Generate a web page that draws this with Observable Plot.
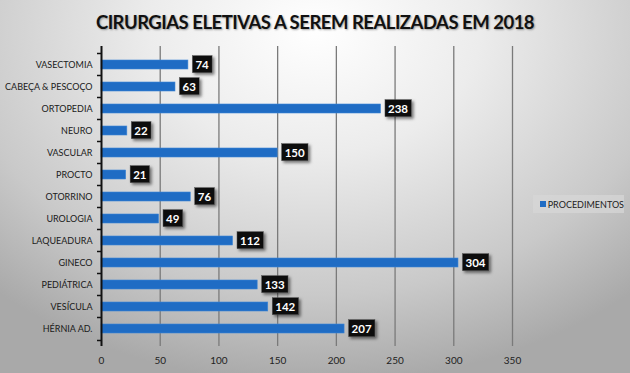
<!DOCTYPE html>
<html>
<head>
<meta charset="utf-8">
<script src="https://cdn.jsdelivr.net/npm/d3@7"></script>
<script src="https://cdn.jsdelivr.net/npm/@observablehq/plot@0.6"></script>
<style>
  html, body { margin: 0; padding: 0; }
  body {
    width: 630px; height: 373px; overflow: hidden; position: relative;
    background: radial-gradient(ellipse 75% 95% at 50% 8%, #ffffff 0%, #ececec 35%, #c9c9c9 75%, #a9a9a9 100%);
    font-family: Lato, "Open Sans", sans-serif;
  }
  #title {
    height: 40px; line-height: 44px; text-align: center;
    font-weight: bold; font-size: 18.5px; color: #111;
    letter-spacing: -0.5px;
    text-shadow: 1px 1px 2px rgba(0,0,0,0.35);
  }
  #legend {
    position: absolute; left: 533px; top: 195px; width: 91px; height: 18px;
    background: rgba(215,215,215,0.7);
    font-size: 9px; color: #222; display: flex; align-items: center;
  }
  #legend span.sw { display: inline-block; width: 6px; height: 6px; background: #1f6cc4; margin: 0 2px 0 7px; }
  svg { display: block; }
</style>
</head>
<body>
<div id="title">CIRURGIAS ELETIVAS A SEREM REALIZADAS EM 2018</div>
<div id="chart"></div>
<div id="legend"><span class="sw"></span>PROCEDIMENTOS</div>
<script>
const categories = ["VASECTOMIA", "CABEÇA & PESCOÇO", "ORTOPEDIA", "NEURO", "VASCULAR", "PROCTO", "OTORRINO", "UROLOGIA", "LAQUEADURA", "GINECO", "PEDIÁTRICA", "VESÍCULA", "HÉRNIA AD."];
const procedimentos = [74, 63, 238, 22, 150, 21, 76, 49, 112, 304, 133, 142, 207];
const xTicks = [0, 50, 100, 150, 200, 250, 300, 350];
const gridTicks = [50, 100, 150, 200, 250, 300, 350];

const data = categories.map((c, i) => ({cat: c, value: procedimentos[i]}));

const plot = Plot.plot({
  width: 630,
  height: 333,
  marginTop: 6,
  marginBottom: 27,
  marginLeft: 101,
  marginRight: 118,
  style: {background: "transparent", fontFamily: "Lato, 'Open Sans', sans-serif", color: "#222"},
  x: {domain: [0, 350], ticks: xTicks},
  y: {domain: categories, padding: 0.6, label: null},
  marks: [
    Plot.ruleX(gridTicks, {stroke: "#7a7a7a", strokeWidth: 1.3}),
    Plot.axisX({ticks: xTicks, tickSize: 0, tickPadding: 10, fontSize: 10, label: null, color: "#222"}),
    Plot.axisY({tickSize: 0, tickPadding: 9, fontSize: 9, label: null, color: "#1a1a1a"}),
    Plot.ruleY(categories, {y: d => d, x1: 0, x2: 0, insetLeft: -4, dy: -11.5, stroke: "#111", strokeWidth: 1.5}),
    Plot.ruleY(categories.slice(-1), {y: d => d, x1: 0, x2: 0, insetLeft: -4, dy: 11.5, stroke: "#111", strokeWidth: 1.5}),
    Plot.barX(data, {y: "cat", x: "value", fill: "#1f6cc4", stroke: "#3d86d6", strokeWidth: 0.6}),
    Plot.ruleX([0], {stroke: "#111", strokeWidth: 2}),
    Plot.text(data, {y: "cat", x: "value", text: d => String(d.value), textAnchor: "start", dx: 7, fill: "white", fontWeight: "bold", fontSize: 11.5, ariaLabel: () => "values"})
  ]
});
document.getElementById("chart").appendChild(plot);

// black boxes with shadow behind value labels
const svg = d3.select(plot);
const defs = svg.insert("defs", ":first-child");
const f = defs.append("filter").attr("id", "sh").attr("x", "-30%").attr("y", "-30%").attr("width", "180%").attr("height", "180%");
f.append("feDropShadow").attr("dx", 2).attr("dy", 2).attr("stdDeviation", 1.5).attr("flood-color", "#000").attr("flood-opacity", 0.5);
const texts = [];
svg.selectAll("text").each(function() {
  if (this.getAttribute("aria-label") === "values") texts.push(this);
});
texts.forEach(node => {
  const b = node.getBBox();
  const t = node.getAttribute("transform");
  const r = document.createElementNS("http://www.w3.org/2000/svg", "rect");
  r.setAttribute("x", b.x - 3);
  r.setAttribute("y", b.y - 2);
  r.setAttribute("width", b.width + 6);
  r.setAttribute("height", b.height + 4);
  r.setAttribute("fill", "#0a0a0a");
  r.setAttribute("stroke", "#555");
  r.setAttribute("stroke-width", 0.5);
  r.setAttribute("filter", "url(#sh)");
  if (t) r.setAttribute("transform", t);
  node.parentNode.insertBefore(r, node);
});
</script>
</body>
</html>
